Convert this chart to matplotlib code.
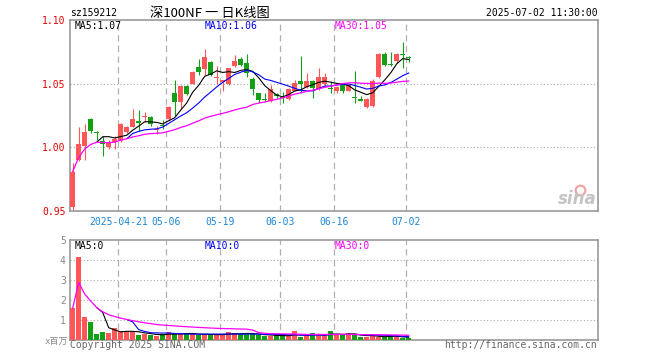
import matplotlib
matplotlib.use("Agg")
import matplotlib.pyplot as plt
import numpy as np

# ---------------- data ----------------
opens = [0.953, 0.990, 1.001, 1.022, 1.0115, 1.005, 1.000, 1.0045, 1.005, 1.012,
         1.016, 1.020, 1.0238, 1.024, 1.0135, 1.017, 1.022, 1.0424, 1.0356, 1.048,
         1.050, 1.0627, 1.0615, 1.067, 1.0545, 1.0514, 1.050, 1.064, 1.069, 1.0666,
         1.0535, 1.0424, 1.0372, 1.036, 1.042, 1.0392, 1.0377, 1.0445, 1.0524, 1.0477,
         1.0524, 1.046, 1.0495, 1.046, 1.044, 1.049, 1.0445, 1.0392, 1.038, 1.0314,
         1.0324, 1.055, 1.0734, 1.065, 1.0677, 1.073, 1.0703]
highs = [0.988, 1.016, 1.018, 1.023, 1.0125, 1.009, 1.006, 1.0087, 1.019, 1.0165,
         1.030, 1.029, 1.028, 1.025, 1.0166, 1.0215, 1.0325, 1.053, 1.049, 1.049,
         1.060, 1.069, 1.077, 1.0675, 1.064, 1.053, 1.062, 1.0725, 1.071, 1.0735,
         1.0556, 1.043, 1.0424, 1.049, 1.0425, 1.0435, 1.0466, 1.053, 1.072, 1.0587,
         1.0526, 1.062, 1.0587, 1.052, 1.048, 1.0495, 1.050, 1.060, 1.040, 1.0387,
         1.0535, 1.074, 1.0745, 1.0745, 1.074, 1.0824, 1.0718]
lows = [0.950, 0.989, 0.990, 1.011, 1.0055, 0.993, 0.9985, 0.999, 1.0045, 1.0115,
        1.016, 1.013, 1.020, 1.017, 1.0108, 1.0145, 1.021, 1.025, 1.030, 1.041,
        1.050, 1.057, 1.0566, 1.0562, 1.050, 1.044, 1.049, 1.063, 1.064, 1.0555,
        1.041, 1.035, 1.0356, 1.0355, 1.039, 1.035, 1.037, 1.044, 1.0424, 1.0466,
        1.039, 1.045, 1.048, 1.0424, 1.043, 1.043, 1.044, 1.035, 1.036, 1.031,
        1.032, 1.0545, 1.064, 1.064, 1.0666, 1.0624, 1.067]
closes = [0.981, 1.003, 1.012, 1.013, 1.011, 1.0025, 1.0035, 1.0066, 1.0187, 1.016,
          1.0224, 1.0195, 1.024, 1.018, 1.014, 1.0165, 1.032, 1.0356, 1.048, 1.042,
          1.059, 1.059, 1.071, 1.0566, 1.0548, 1.0527, 1.062, 1.0677, 1.065, 1.058,
          1.0456, 1.037, 1.0368, 1.0456, 1.040, 1.0388, 1.046, 1.0508, 1.0498, 1.0524,
          1.0466, 1.0556, 1.0556, 1.0455, 1.0477, 1.0445, 1.049, 1.0388, 1.0366, 1.038,
          1.052, 1.0734, 1.0645, 1.0645, 1.0734, 1.0725, 1.070]
volumes = [1.6, 4.15, 1.15, 0.9, 0.3, 0.38, 0.35, 0.58, 0.43, 0.42,
           0.38, 0.25, 0.3, 0.25, 0.2, 0.3, 0.4, 0.33, 0.3, 0.3,
           0.3, 0.25, 0.3, 0.25, 0.25, 0.3, 0.38, 0.35, 0.28, 0.33,
           0.28, 0.25, 0.2, 0.2, 0.23, 0.23, 0.22, 0.43, 0.13, 0.23,
           0.33, 0.27, 0.2, 0.43, 0.27, 0.23, 0.33, 0.28, 0.13, 0.13,
           0.23, 0.17, 0.17, 0.2, 0.17, 0.08, 0.08]
tick_index = [8, 16, 25, 35, 44, 56]
tick_labels = ["2025-04-21", "05-06", "05-19", "06-03", "06-16", "07-02"]
price_ticks = [0.95, 1.00, 1.05, 1.10]
vol_ticks = [1, 2, 3, 4, 5]

RED = "#ff5757"
GREEN = "#14a014"
MONO = "DejaVu Sans Mono"
CJK = ["Noto Sans CJK SC", "DejaVu Sans"]

W, H = 660, 360


def ma(arr, n, expanding=False):
    a = np.asarray(arr, dtype=float)
    out = np.full(len(a), np.nan)
    for i in range(len(a)):
        if i >= n - 1:
            out[i] = a[i - n + 1:i + 1].mean()
        elif expanding:
            out[i] = a[:i + 1].mean()
    return out


fig = plt.figure(figsize=(6.6, 3.6), dpi=100)


def px_axes(x0, y0, x1, y1):
    return fig.add_axes([x0 / W, 1 - y1 / H, (x1 - x0) / W, (y1 - y0) / H])


ax = px_axes(70, 20, 598, 211)
axv = px_axes(70, 240, 598, 340)

n = len(closes)
idx = np.arange(n)
XL = (-0.45, 87.55)

for a in (ax, axv):
    a.set_xlim(*XL)
    for s in a.spines.values():
        s.set_color("#999999")
        s.set_linewidth(1.2)
    for t in tick_index:
        a.axvline(t - 0.4, color="#b0b0b0", ls=(0, (5, 3.5)), lw=0.9, zorder=0)
    a.tick_params(length=0)

# ---- candles ----
colors = [RED if c >= o else GREEN for o, c in zip(opens, closes)]
ax.vlines(idx, lows, highs, colors=colors, lw=0.8, zorder=2)
bottoms = [min(o, c) for o, c in zip(opens, closes)]
heights = [max(abs(c - o), 0.0008) for o, c in zip(opens, closes)]
ax.bar(idx, heights, bottom=bottoms, width=0.75, color=colors, zorder=3, linewidth=0)

ax.plot(idx, ma(closes, 5), color="black", lw=0.8, zorder=4)
ax.plot(idx, ma(closes, 10), color="#0000ff", lw=0.8, zorder=4)
ax.plot(idx, ma(closes, 30, expanding=True), color="#ff00ff", lw=0.9, zorder=4)

ax.set_ylim(0.95, 1.10)
for yv in (1.00, 1.05):
    ax.axhline(yv, color="#aaaaaa", ls=(0, (1, 2)), lw=0.8, zorder=0)
ax.set_yticks(price_ticks)
ax.set_yticklabels(["%.2f" % p for p in price_ticks], color="#e60000",
                   fontsize=7, family=MONO)
ax.tick_params(axis="y", pad=3)
ax.set_xticks([t - 0.4 for t in tick_index])
ax.set_xticklabels(tick_labels, color="#1c86d6", fontsize=7, family=MONO)
ax.tick_params(axis="x", pad=4)

# ---- volume ----
axv.bar(idx, volumes, width=0.82, color=colors, zorder=3, linewidth=0)
axv.plot(idx, ma(volumes, 5), color="black", lw=0.8, zorder=4)
axv.plot(idx, ma(volumes, 10), color="#0000ff", lw=0.8, zorder=4)
axv.plot(idx, ma(volumes, 30, expanding=True), color="#ff00ff", lw=0.9, zorder=4)
axv.set_ylim(0, 5)
for yv in (1, 2, 3, 4):
    axv.axhline(yv, color="#aaaaaa", ls=(0, (1, 2)), lw=0.8, zorder=0)
axv.set_yticks(vol_ticks)
axv.set_yticklabels([str(v) for v in vol_ticks], color="#888888", fontsize=7, family=MONO)
axv.tick_params(axis="y", pad=3)
axv.set_xticks([])

# ---- texts ----
def ftext(x, y, s, **kw):
    fig.text(x / W, 1 - y / H, s, **kw)

ftext(70, 13, "sz159212", fontsize=7, family=MONO, ha="left", va="center", color="black")
ftext(210, 13, "深100NF 一 日K线图", fontsize=9.5, family=CJK, ha="center", va="center",
      color="black")
ftext(598, 13, "2025-07-02 11:30:00", fontsize=7, family=MONO, ha="right", va="center",
      color="black")

ma5_last = ma(closes, 5)[-1]
ma10_last = ma(closes, 10)[-1]
ma30_last = ma(closes, 30, expanding=True)[-1]
ftext(75, 26, "MA5:%.2f" % ma5_last, fontsize=7, family=MONO, ha="left", va="center",
      color="black")
ftext(205, 26, "MA10:%.2f" % ma10_last, fontsize=7, family=MONO, ha="left", va="center",
      color="#0000ff")
ftext(335, 26, "MA30:%.2f" % ma30_last, fontsize=7, family=MONO, ha="left", va="center",
      color="#ff00ff")

ftext(75, 246, "MA5:0", fontsize=7, family=MONO, ha="left", va="center", color="black")
ftext(205, 246, "MA10:0", fontsize=7, family=MONO, ha="left", va="center", color="#0000ff")
ftext(335, 246, "MA30:0", fontsize=7, family=MONO, ha="left", va="center", color="#ff00ff")

ftext(68, 341, "x百万", fontsize=6.5, family=["DejaVu Sans Mono", "Noto Sans CJK SC"],
      ha="right", va="center", color="#888888")
ftext(70, 345, "Copyright 2025 SINA.COM", fontsize=7, family=MONO, ha="left", va="center",
      color="#666666")
ftext(597, 345, "http://finance.sina.com.cn", fontsize=7, family=MONO, ha="right",
      va="center", color="#666666")

# sina watermark
ftext(597, 199, "sina", fontsize=12, style="italic", weight="bold", family="DejaVu Sans",
      ha="right", va="center", color="#c4c4c4")
ax.plot([84.6], [0.9665], marker="o", ms=7, mfc="none", mec="#f2a6a6", mew=1.6, zorder=1)

fig.savefig("out.png", dpi=100)
